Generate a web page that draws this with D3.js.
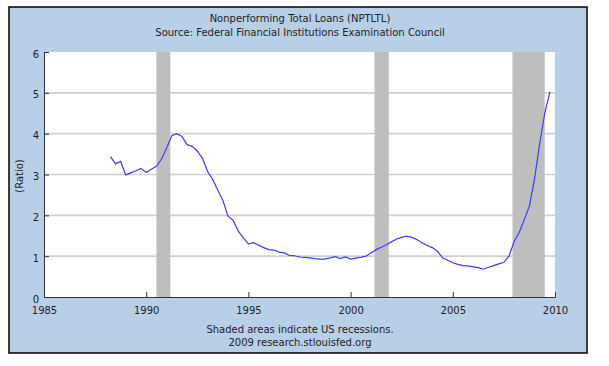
<!DOCTYPE html>
<html><head><meta charset="utf-8">
<script src="https://cdn.jsdelivr.net/npm/d3@7"></script>
<style>body{margin:0;background:#fff}svg{display:block}text{font-family:"DejaVu Sans",Verdana,sans-serif;fill:#222}</style>
</head><body>
<svg id="c" width="609" height="366"></svg>
<script>
const quarters = [
"1988Q2","1988Q3","1988Q4","1989Q1","1989Q2","1989Q3","1989Q4","1990Q1","1990Q2","1990Q3","1990Q4",
"1991Q1","1991Q2","1991Q3","1991Q4","1992Q1","1992Q2","1992Q3","1992Q4","1993Q1","1993Q2","1993Q3","1993Q4",
"1994Q1","1994Q2","1994Q3","1994Q4","1995Q1","1995Q2","1995Q3","1995Q4","1996Q1","1996Q2","1996Q3","1996Q4",
"1997Q1","1997Q2","1997Q3","1997Q4","1998Q1","1998Q2","1998Q3","1998Q4","1999Q1","1999Q2","1999Q3","1999Q4",
"2000Q1","2000Q2","2000Q3","2000Q4","2001Q1","2001Q2","2001Q3","2001Q4","2002Q1","2002Q2","2002Q3","2002Q4",
"2003Q1","2003Q2","2003Q3","2003Q4","2004Q1","2004Q2","2004Q3","2004Q4","2005Q1","2005Q2","2005Q3","2005Q4",
"2006Q1","2006Q2","2006Q3","2006Q4","2007Q1","2007Q2","2007Q3","2007Q4","2008Q1","2008Q2","2008Q3","2008Q4",
"2009Q1","2009Q2","2009Q3","2009Q4"];
const values = [
3.44,3.26,3.32,2.99,3.04,3.09,3.15,3.05,3.13,3.20,3.38,
3.65,3.95,4.00,3.93,3.73,3.69,3.57,3.40,3.08,2.88,2.62,2.37,
1.98,1.88,1.62,1.45,1.30,1.33,1.27,1.21,1.16,1.15,1.10,1.08,
1.02,1.01,0.98,0.97,0.96,0.94,0.93,0.93,0.96,0.99,0.94,0.98,
0.93,0.95,0.97,1.00,1.08,1.16,1.22,1.28,1.35,1.42,1.46,1.49,
1.46,1.40,1.33,1.26,1.21,1.12,0.96,0.90,0.84,0.80,0.77,0.76,
0.74,0.72,0.68,0.73,0.77,0.81,0.85,1.00,1.36,1.58,1.90,2.23,
2.90,3.75,4.50,5.03];
const recessionStarts = [1990.5, 2001.17, 2007.92];
const recessionEnds   = [1991.18, 2001.87, 2009.5];
const xTicks = [1985, 1990, 1995, 2000, 2005, 2010];
const yTicks = [0, 1, 2, 3, 4, 5, 6];
const titleLines = ["Nonperforming Total Loans (NPTLTL)", "Source: Federal Financial Institutions Examination Council"];
const footerLines = ["Shaded areas indicate US recessions.", "2009 research.stlouisfed.org"];
const yLabel = "(Ratio)";

const svg = d3.select("#c");
const L = 44, R = 555, T = 52, B = 297;
const x = d3.scaleLinear().domain([1985, 2010]).range([L, R]);
const y = d3.scaleLinear().domain([0, 6]).range([B, T]);
const qToYear = q => +q.slice(0,4) + (+q.slice(5) - 1) / 4;
const data = quarters.map((q,i) => ({t: qToYear(q), v: values[i]}));

// frame
svg.append("rect").attr("x",9).attr("y",7).attr("width",578).attr("height",346)
  .attr("fill","#b7cfe7").attr("stroke","#000").attr("stroke-width",1.5);
// plot area
svg.append("rect").attr("x",L).attr("y",T).attr("width",R-L).attr("height",B-T).attr("fill","#fff");

// gridlines
svg.append("g").selectAll("line").data(yTicks.filter(d=>d>0 && d<6)).join("line")
  .attr("x1",L).attr("x2",R).attr("y1",d=>y(d)).attr("y2",d=>y(d))
  .attr("stroke","#cfcfcf").attr("stroke-width",1.6);

// recessions
svg.append("g").selectAll("rect").data(recessionStarts).join("rect")
  .attr("x",d=>x(d)).attr("width",(d,i)=>x(recessionEnds[i])-x(d))
  .attr("y",T).attr("height",B-T).attr("fill","#bebebe");

// axes
const yAxis = d3.axisLeft(y).tickValues(yTicks).tickSize(-5).tickPadding(5).tickFormat(d3.format("d"));
const gy = svg.append("g").attr("transform",`translate(${L},0)`).call(yAxis);
gy.select(".domain").attr("stroke","#333");
gy.selectAll(".tick line").attr("stroke","#333");
gy.selectAll(".tick text").attr("font-size",10).attr("font-family","DejaVu Sans").attr("fill","#222").attr("dy","0.5em");

const xAxis = d3.axisBottom(x).tickValues(xTicks).tickSize(-5).tickPadding(10).tickFormat(d3.format("d"));
const gx = svg.append("g").attr("transform",`translate(0,${B})`).call(xAxis);
gx.select(".domain").attr("stroke","#333");
gx.selectAll(".tick line").attr("stroke","#333");
gx.selectAll(".tick text").attr("font-size",10).attr("font-family","DejaVu Sans").attr("fill","#222").attr("y",10).attr("dy","0.71em");

// line
svg.append("path").datum(data)
  .attr("d", d3.line().x(d=>x(d.t)).y(d=>y(d.v)))
  .attr("fill","none").attr("stroke","#3c3cff").attr("stroke-width",1.2);

// texts
svg.append("g").selectAll("text").data(titleLines).join("text")
  .attr("x",300).attr("y",(d,i)=>22+i*14).attr("text-anchor","middle").attr("font-size",10).text(d=>d);
svg.append("g").selectAll("text").data(footerLines).join("text")
  .attr("x",300).attr("y",(d,i)=>332.5+i*13).attr("text-anchor","middle").attr("font-size",10).text(d=>d);
svg.append("text").attr("transform","translate(23,176) rotate(-90)").attr("text-anchor","middle")
  .attr("font-size",10).text(yLabel);
</script>
</body></html>
